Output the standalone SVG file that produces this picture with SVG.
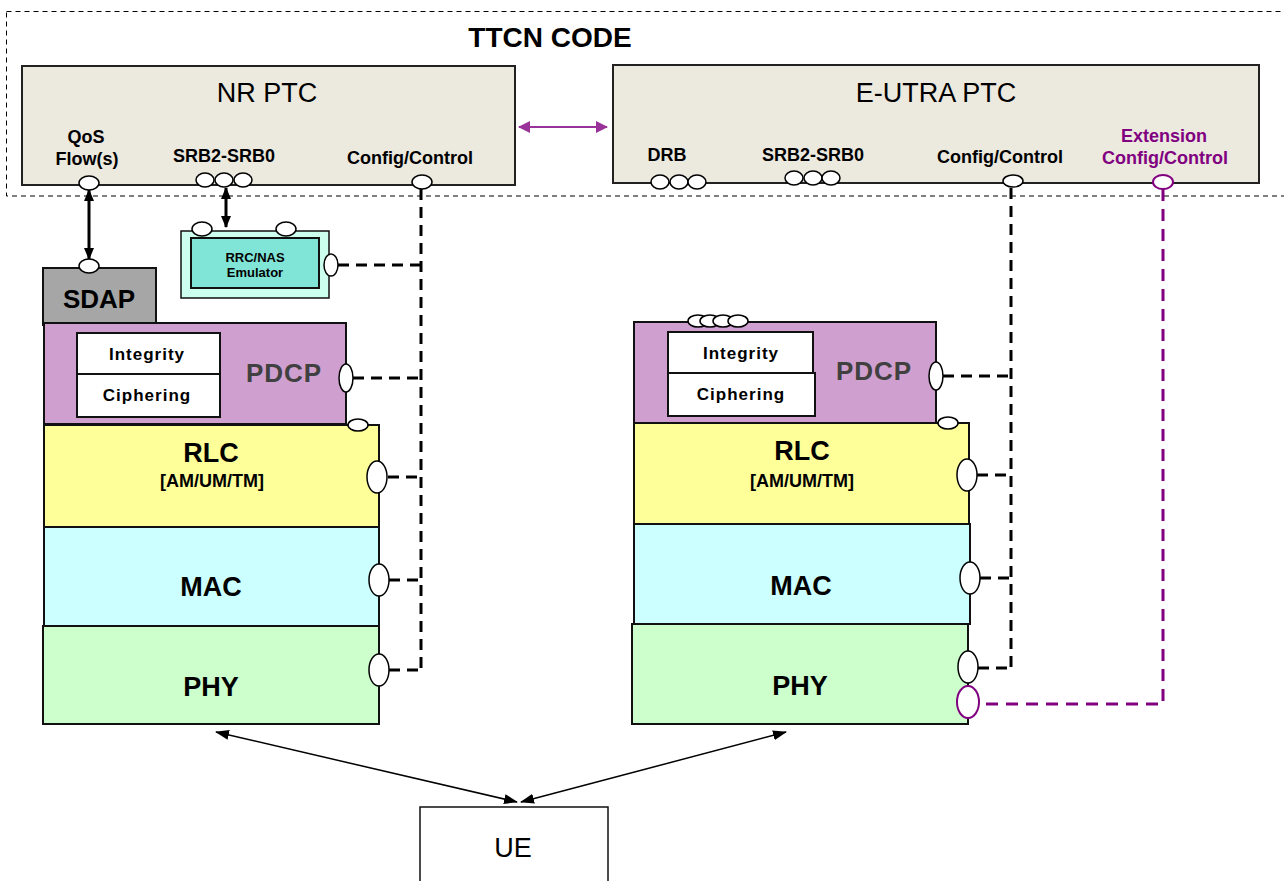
<svg xmlns="http://www.w3.org/2000/svg" width="1284" height="881" viewBox="0 0 1284 881">
<style>
text{font-family:"Liberation Sans",Arial,sans-serif;text-anchor:middle;fill:#000}
.b{font-weight:bold}
.ptc{fill:#ECE9DF;stroke:#222;stroke-width:2}
.port{fill:#fff;stroke:#000;stroke-width:1.5}
.pport{fill:#fff;stroke:#800080;stroke-width:2}
.box{stroke:#111;stroke-width:2}
.dash{fill:none;stroke:#000;stroke-width:3;stroke-dasharray:11 7}
.pdash{fill:none;stroke:#800080;stroke-width:3;stroke-dasharray:12 8}
.lbl{font-size:18px;font-weight:bold}
.layer{font-size:27px;font-weight:bold}
.sec{font-size:17px;font-weight:bold;letter-spacing:1px}
</style>
<defs>
<marker id="ah" viewBox="0 0 12 10" refX="11" refY="5" markerWidth="12" markerHeight="10" markerUnits="userSpaceOnUse" orient="auto-start-reverse"><path d="M0,0 L12,5 L0,10 Z" fill="#000"/></marker>
<marker id="ahm" viewBox="0 0 12 12" refX="11" refY="6" markerWidth="12" markerHeight="12" markerUnits="userSpaceOnUse" orient="auto-start-reverse"><path d="M0,0 L12,6 L0,12 Z" fill="#993399"/></marker>
<marker id="aht" viewBox="0 0 14 10" refX="13" refY="5" markerWidth="14" markerHeight="10" markerUnits="userSpaceOnUse" orient="auto-start-reverse"><path d="M0,0 L14,5 L0,10 Z" fill="#000"/></marker>
</defs>
<rect width="1284" height="881" fill="#fff"/>

<g id="ttcn-code">
<rect x="6.5" y="11.5" width="1290" height="184.5" fill="none" stroke="#000" stroke-width="1" stroke-dasharray="5 4"/>
<text x="550" y="47" class="b" font-size="28">TTCN CODE</text>
</g>

<g id="connectors">
<line x1="89" y1="190" x2="89" y2="259" stroke="#000" stroke-width="3" marker-start="url(#ah)" marker-end="url(#ah)"/>
<line x1="226" y1="188" x2="226" y2="227" stroke="#000" stroke-width="3" marker-start="url(#ah)" marker-end="url(#ah)"/>
<line x1="519" y1="127" x2="607" y2="127" stroke="#993399" stroke-width="2" marker-start="url(#ahm)" marker-end="url(#ahm)"/>
<path class="dash" d="M421,189 V670 M338,265 H421 M353,378 H421 M388,477 H421 M389,580 H421 M389,670 H421"/>
<path class="dash" d="M1011,188 V668 M943,376 H1011 M977,475 H1011 M980,578 H1011 M978,668 H1011"/>
<path class="pdash" d="M1163,189 V704 H980"/>
<line x1="216" y1="732" x2="517" y2="802" stroke="#000" stroke-width="1.5" marker-start="url(#aht)" marker-end="url(#aht)"/>
<line x1="786" y1="732" x2="521" y2="802" stroke="#000" stroke-width="1.5" marker-start="url(#aht)" marker-end="url(#aht)"/>
</g>

<g id="nr-ptc">
<rect class="ptc" x="22" y="66" width="493" height="119"/>
<text x="267" y="102" font-size="27">NR PTC</text>
<text x="86" y="143" class="lbl">QoS</text>
<text x="87" y="165" class="lbl">Flow(s)</text>
<text x="224" y="162" class="lbl">SRB2-SRB0</text>
<text x="410" y="164" class="lbl">Config/Control</text>
<ellipse class="port" cx="89" cy="183" rx="10" ry="7"/>
<ellipse class="port" cx="205" cy="180" rx="9" ry="7"/>
<ellipse class="port" cx="224" cy="180" rx="9" ry="7"/>
<ellipse class="port" cx="243" cy="180" rx="9" ry="7"/>
<ellipse class="port" cx="422" cy="182" rx="10" ry="7"/>
</g>

<g id="eutra-ptc">
<rect class="ptc" x="613" y="65" width="646" height="118"/>
<text x="936" y="102" font-size="27">E-UTRA PTC</text>
<text x="667" y="161" class="lbl">DRB</text>
<text x="813" y="161" class="lbl">SRB2-SRB0</text>
<text x="1000" y="163" class="lbl">Config/Control</text>
<text x="1164" y="142" class="lbl" fill="#800080" style="fill:#800080">Extension</text>
<text x="1165" y="164" class="lbl" style="fill:#800080">Config/Control</text>
<ellipse class="port" cx="660" cy="182" rx="9" ry="7"/>
<ellipse class="port" cx="679" cy="182" rx="9" ry="7"/>
<ellipse class="port" cx="697" cy="182" rx="9" ry="7"/>
<ellipse class="port" cx="794" cy="178" rx="9" ry="7"/>
<ellipse class="port" cx="813" cy="178" rx="9" ry="7"/>
<ellipse class="port" cx="831" cy="178" rx="9" ry="7"/>
<ellipse class="port" cx="1013" cy="181" rx="10" ry="6"/>
<ellipse class="pport" cx="1163" cy="182" rx="10" ry="7"/>
</g>

<g id="rrc-nas-emulator">
<rect x="181" y="231" width="148" height="67" fill="#CCFFEE" stroke="#111" stroke-width="1.5"/>
<rect x="191" y="238" width="128" height="50" fill="#80E5D6" stroke="#111" stroke-width="2"/>
<text x="255" y="262" class="b" font-size="13">RRC/NAS</text>
<text x="255" y="277" class="b" font-size="13">Emulator</text>
<ellipse class="port" cx="202" cy="229" rx="10" ry="7"/>
<ellipse class="port" cx="286" cy="229" rx="10" ry="7"/>
<ellipse class="port" cx="331" cy="265" rx="7" ry="11"/>
</g>

<g id="sdap">
<rect x="43" y="268" width="113" height="57" fill="#A6A6A6" stroke="#111" stroke-width="2"/>
<text x="99" y="308" class="b" font-size="26">SDAP</text>
<ellipse class="port" cx="89" cy="266" rx="10" ry="7"/>
</g>

<g id="nr-pdcp">
<rect class="box" x="44" y="323" width="302" height="101" fill="#CF9FCF"/>
<rect x="77" y="333" width="143" height="41" fill="#fff" stroke="#111" stroke-width="2"/>
<rect x="77" y="374" width="143" height="43" fill="#fff" stroke="#111" stroke-width="2"/>
<text x="147" y="360" class="sec">Integrity</text>
<text x="147" y="401" class="sec">Ciphering</text>
<text x="284" y="382" class="b" font-size="26" letter-spacing="1" style="fill:#404040">PDCP</text>
<ellipse class="port" cx="346" cy="378" rx="7" ry="14"/>
</g>

<g id="nr-rlc">
<rect class="box" x="44" y="425" width="335" height="102" fill="#FFFF99"/>
<text x="211" y="462" class="layer">RLC</text>
<text x="212" y="487" class="b" font-size="18">[AM/UM/TM]</text>
<ellipse class="port" cx="358" cy="425" rx="10" ry="6"/>
<ellipse class="port" cx="377" cy="477" rx="10" ry="16"/>
</g>

<g id="nr-mac">
<rect class="box" x="44" y="527" width="335" height="99" fill="#CCFFFF"/>
<text x="211" y="596" class="layer">MAC</text>
<ellipse class="port" cx="379" cy="580" rx="10" ry="16"/>
</g>

<g id="nr-phy">
<rect class="box" x="43" y="626" width="336" height="98" fill="#CCFFCC"/>
<text x="211" y="696" class="layer">PHY</text>
<ellipse class="port" cx="379" cy="670" rx="10" ry="16"/>
</g>

<g id="eutra-pdcp">
<rect class="box" x="634" y="322" width="302" height="101" fill="#CF9FCF"/>
<rect x="668" y="332" width="145" height="41" fill="#fff" stroke="#111" stroke-width="2"/>
<rect x="668" y="373" width="147" height="43" fill="#fff" stroke="#111" stroke-width="2"/>
<text x="741" y="359" class="sec">Integrity</text>
<text x="741" y="400" class="sec">Ciphering</text>
<text x="874" y="380" class="b" font-size="26" letter-spacing="1" style="fill:#404040">PDCP</text>
<ellipse class="port" cx="698" cy="321" rx="10" ry="6"/>
<ellipse class="port" cx="710" cy="321" rx="10" ry="6"/>
<ellipse class="port" cx="723" cy="321" rx="10" ry="6"/>
<ellipse class="port" cx="738" cy="321" rx="10" ry="6"/>
<ellipse class="port" cx="936" cy="376" rx="7" ry="14"/>
</g>

<g id="eutra-rlc">
<rect class="box" x="634" y="423" width="335" height="101" fill="#FFFF99"/>
<text x="802" y="460" class="layer">RLC</text>
<text x="802" y="487" class="b" font-size="18">[AM/UM/TM]</text>
<ellipse class="port" cx="948" cy="423" rx="10" ry="6"/>
<ellipse class="port" cx="967" cy="475" rx="10" ry="16"/>
</g>

<g id="eutra-mac">
<rect class="box" x="634" y="524" width="336" height="100" fill="#CCFFFF"/>
<text x="801" y="595" class="layer">MAC</text>
<ellipse class="port" cx="970" cy="578" rx="10" ry="16"/>
</g>

<g id="eutra-phy">
<rect class="box" x="632" y="624" width="336" height="100" fill="#CCFFCC"/>
<text x="800" y="695" class="layer">PHY</text>
<ellipse class="port" cx="968" cy="667" rx="10" ry="16"/>
<ellipse class="pport" cx="968" cy="702" rx="11" ry="16"/>
</g>

<g id="ue">
<rect x="420" y="807" width="188" height="90" fill="#fff" stroke="#111" stroke-width="1.5"/>
<text x="513" y="857" font-size="27">UE</text>
</g>
</svg>
